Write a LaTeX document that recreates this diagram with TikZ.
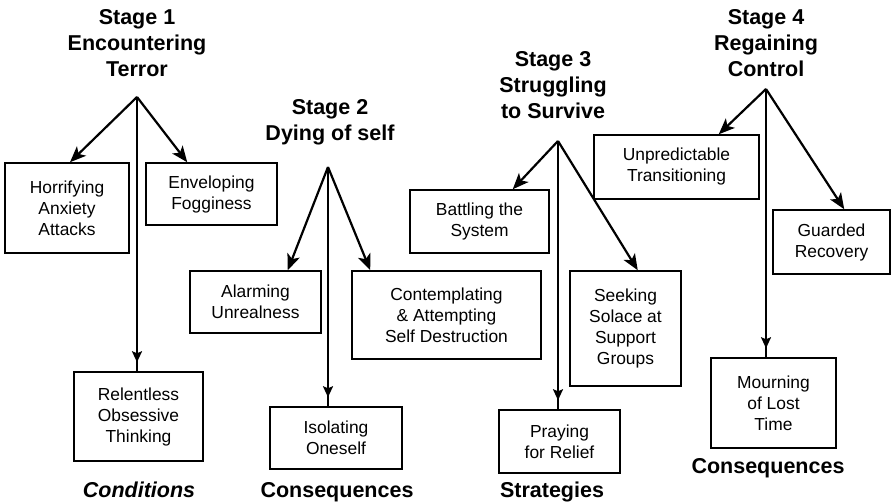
\documentclass[tikz,border=0pt]{standalone}
\usepackage{fontspec}
\setmainfont{Liberation Sans}
\usetikzlibrary{arrows.meta,decorations.markings}
\newcommand{\boxtextfont}{\fontsize{17.4}{21}\selectfont}
\newcommand{\stagefont}{\fontsize{21.5}{26}\selectfont\bfseries}

\begin{document}
\begin{tikzpicture}[x=1pt,y=1pt]
                \tikzstyle{every node}+=[inner sep=0pt]
                \tikzstyle{box}=[draw, line width=1.5pt, align=center, font=\boxtextfont]
                \tikzstyle{stage}=[anchor=north, align=center, font=\stagefont]
                \tikzstyle{kind}=[anchor=base, font=\stagefont]
                \tikzstyle{branch}=[line width=2.2pt, -{Stealth[length=16pt,width=13pt,inset=4pt]}]
                \tikzstyle{stem}=[line width=1.9pt, postaction={decorate}, decoration={markings, mark=at position -9pt with {\arrow{Stealth[length=11pt,width=10pt,inset=2pt]}}}]
                \useasboundingbox (0,0) rectangle (894,-503);
                \node [stage] (s1) at (137,-9.5) {Stage 1\\Encountering\\Terror};
                \node [stage] (s2) at (330,-99.5) {Stage 2\\Dying of self};
                \node [stage] (s3) at (553,-51) {Stage 3\\Struggling\\to Survive};
                \node [stage] (s4) at (766,-9.5) {Stage 4\\Regaining\\Control};
                \coordinate (r1) at (137,-97);
                \coordinate (r2) at (328,-167);
                \coordinate (r3) at (558,-141);
                \coordinate (r4) at (766,-89);
                \node [box, minimum width=124pt, minimum height=90pt] (horr) at (67,-208) {Horrifying\\Anxiety\\Attacks};
                \node [box, minimum width=131pt, minimum height=62pt] (envel) at (211.5,-194) {Enveloping\\Fogginess};
                \node [box, minimum width=129pt, minimum height=89pt] (relent) at (138.5,-416.5) {Relentless\\Obsessive\\Thinking};
                \node [box, minimum width=131pt, minimum height=62pt] (alarm) at (255.5,-302) {Alarming\\Unrealness};
                \node [box, minimum width=189pt, minimum height=88pt] (contem) at (446.5,-315) {Contemplating\\\& Attempting\\Self Destruction};
                \node [box, minimum width=132pt, minimum height=62pt] (isol) at (336,-438) {Isolating\\Oneself};
                \node [box, minimum width=139pt, minimum height=63pt] (battle) at (479.5,-221.5) {Battling the\\System};
                \node [box, minimum width=111pt, minimum height=115pt] (seek) at (625.5,-328.5) {Seeking\\Solace at\\Support\\Groups};
                \node [box, minimum width=121pt, minimum height=63pt] (pray) at (559.5,-441.5) {Praying\\for Relief};
                \node [box, minimum width=165pt, minimum height=64pt] (unpred) at (676.5,-167) {Unpredictable\\Transitioning};
                \node [box, minimum width=117pt, minimum height=64pt] (guard) at (831.5,-242) {Guarded\\Recovery};
                \node [box, minimum width=125pt, minimum height=90pt] (mourn) at (773.5,-403) {Mourning\\of Lost\\Time};
                \node [kind, font=\stagefont\itshape] (cond) at (139,-497) {Conditions};
                \node [kind] (cons2) at (337,-497) {Consequences};
                \node [kind] (strat) at (552,-497) {Strategies};
                \node [kind] (cons4) at (768,-473) {Consequences};
                \draw [branch] (r1) -- ([xshift=3pt]horr.north);
                \draw [branch] (r1) -- ([xshift=42pt]envel.north west);
                \draw [stem] (r1) -- (r1 |- relent.north);
                \draw [branch] (r2) -- ([xshift=-34pt]alarm.north east);
                \draw [branch] (r2) -- ([xshift=19pt]contem.north west);
                \draw [stem] (r2) -- (r2 |- isol.north);
                \draw [branch] (r3) -- ([xshift=-37pt]battle.north east);
                \draw [branch] (r3) -- ([xshift=-44pt]seek.north east);
                \draw [stem] (r3) -- (r3 |- pray.north);
                \draw [branch] (r4) -- ([xshift=-41pt]unpred.north east);
                \draw [branch] (r4) -- ([xshift=72pt]guard.north west);
                \draw [stem] (r4) -- (r4 |- mourn.north);
\end{tikzpicture}
\end{document}
